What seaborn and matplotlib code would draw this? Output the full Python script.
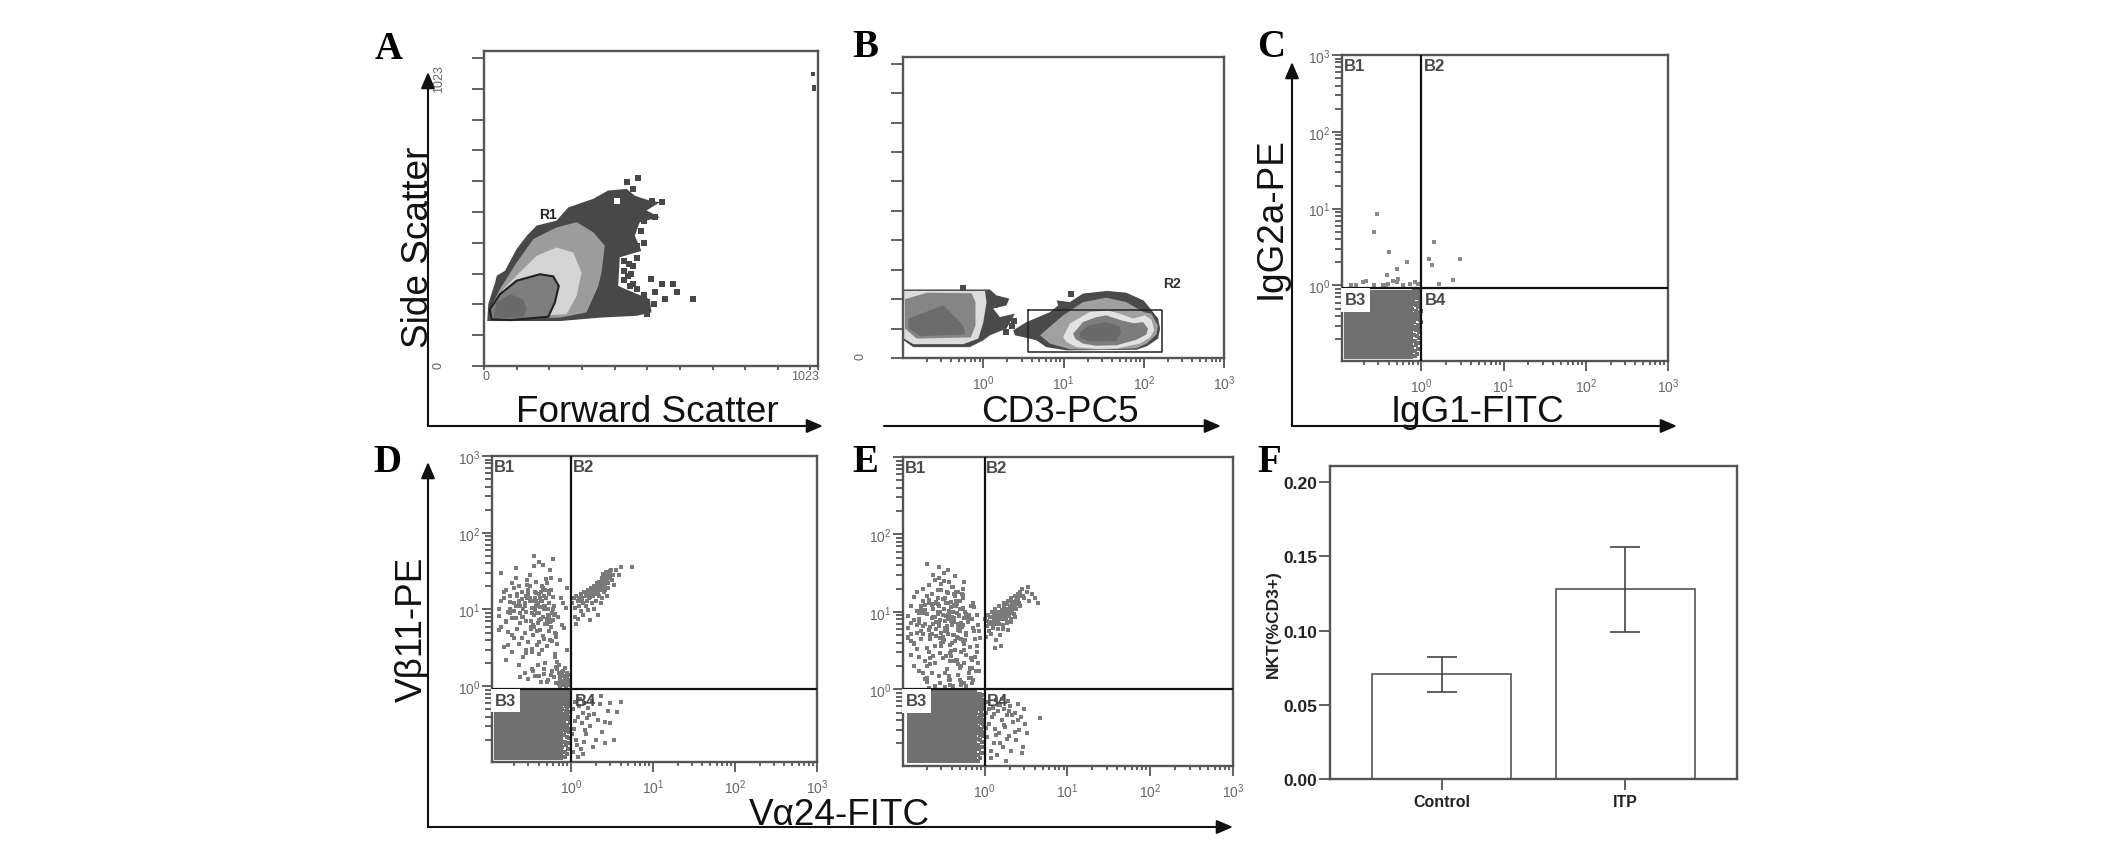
import numpy as np
import matplotlib
matplotlib.use("Agg")
import matplotlib.pyplot as plt
from matplotlib.ticker import LogLocator, NullFormatter, FixedLocator
import seaborn as sns

sns.set_theme(style="ticks")
plt.rcParams["font.family"] = ["Liberation Sans", "DejaVu Sans"]
plt.rcParams["mathtext.fontset"] = "custom"
plt.rcParams["mathtext.rm"] = "Liberation Sans"

W, H = 2126, 854
LINE = "#555555"
DOT = "#707070"
CLOUD = "#7a7a7a"
TXT = "#666666"

# panel A, density regions (forward scatter, side scatter)
a_outer_x = [10, 13, 34, 39, 64, 100, 131, 161, 222, 258, 335, 380, 437, 462, 508, 539, 498, 539, 477, 462, 482, 416, 411, 457, 508, 513, 467, 355, 233]
a_outer_y = [146, 201, 271, 293, 309, 380, 423, 456, 472, 515, 543, 570, 575, 553, 537, 532, 505, 483, 467, 423, 374, 353, 260, 239, 217, 174, 163, 157, 146]
a_mid_x = [18, 23, 49, 100, 151, 222, 284, 335, 370, 360, 350, 314, 233]
a_mid_y = [152, 195, 250, 336, 412, 450, 467, 434, 391, 304, 260, 174, 157]
a_light_x = [29, 59, 120, 161, 222, 273, 299, 284, 253]
a_light_y = [157, 250, 315, 358, 385, 369, 304, 228, 168]
a_gate_x = [23, 18, 49, 100, 171, 212, 229, 217, 197, 80]
a_gate_y = [152, 184, 233, 277, 298, 291, 260, 206, 160, 149]
a_core_x = [29, 39, 80, 120, 131, 120]
a_core_y = [157, 206, 233, 217, 184, 157]
a_cells_x = [437, 472, 457, 544, 514, 523, 457, 441, 457, 513, 544, 579, 523, 590, 554, 641, 447,
             480, 500, 470, 490, 480, 490, 470, 445, 430, 430, 470, 490, 520, 500, 430, 450, 470]
a_cells_y = [597, 611, 575, 532, 537, 483, 326, 293, 266, 284, 266, 266, 239, 239, 219, 219, 260,
             520, 525, 480, 470, 440, 400, 350, 330, 310, 280, 250, 230, 200, 170, 340, 300, 390]
a_far_x = [1008, 1010, 1010]
a_far_y = [949, 906, 900]
a_hole_x = [406]
a_hole_y = [537]

# panel B, density regions (CD3-PC5, side scatter)
b_l_outer_x = [0.102, 1.21, 1.46, 2.11, 1.95, 1.33, 1.61, 2.48, 1.95, 1.21, 1.0, 0.68, 0.134, 0.102]
b_l_outer_y = [233, 233, 213, 202, 179, 168, 139, 151, 100, 77, 60, 37, 37, 60]
b_l_ring_x = [0.103, 1.05, 1.1, 1.0, 0.87, 0.56, 0.134, 0.103]
b_l_ring_y = [228, 228, 190, 120, 66, 47, 47, 66]
b_l_mid_x = [0.106, 0.2, 0.716, 0.8, 0.8, 0.7, 0.148, 0.106]
b_l_mid_y = [200, 222, 220, 190, 110, 70, 66, 100]
b_l_core_x = [0.117, 0.317, 0.56, 0.6, 0.163, 0.117]
b_l_core_y = [134, 179, 111, 80, 74, 100]
b_r_outer_x = [2.36, 3.46, 6.8, 8.6, 8.2, 12, 17.5, 35, 60.6, 100, 119, 151, 160, 151, 110, 81, 10.9, 6.1, 4.6, 3.15, 2.48]
b_r_outer_y = [94, 122, 156, 179, 196, 190, 219, 228, 222, 195, 170, 134, 100, 66, 40, 28, 26, 37, 60, 71, 77]
b_r_mid_x = [5.1, 7, 9.9, 17.5, 34, 60.6, 100, 124, 150, 144, 110, 81, 30, 12, 6.8]
b_r_mid_y = [77, 110, 145, 190, 205, 190, 156, 151, 110, 80, 50, 33, 28, 30, 49]
b_r_ring_x = [9.9, 12, 21, 35, 50, 73.5, 103, 125, 135, 120, 89, 45.6, 25, 14.5, 10.9]
b_r_ring_y = [71, 117, 156, 162, 151, 134, 145, 130, 95, 70, 49, 32, 31, 37, 54]
b_r_inner_x = [13.2, 17.5, 25, 34, 52.5, 75, 98, 113, 108, 81, 45.6, 25, 17.5, 14]
b_r_inner_y = [83, 122, 138, 145, 128, 118, 122, 100, 80, 62, 43, 42, 49, 65]
b_r_core_x = [16, 21, 34, 50, 52, 45.6, 21, 16]
b_r_core_y = [88, 111, 122, 108, 85, 58, 56, 70]
b_cells_x = [0.56, 12.5, 1.9, 2.3, 2.45, 1.5, 1.4]
b_cells_y = [238, 219, 90, 110, 125, 120, 180]

# quadrant panels: main gated population and its speckled edge
block_x = [0.114, 0.8, 0.8, 0.114]
block_y = [0.11, 0.11, 0.9, 0.9]
edge_x = [.74, .78, .82, .86, .9, .94, .97, .76, .8, .84,
          .88, .92, .96, .75, .79, .83, .87, .91, .95, .98,
          .73, .77, .81, .85, .89, .93, .96, .74, .79, .83,
          .87, .9, .94, .97, .76, .81, .85, .88, .92, .98,
          .73, .78, .82, .86, .9, .95, .75, .8, .84, .93,
          .82, .86, .9, .84, .88, .83, .87, .85, .89, .91]
edge_y = [.14, .5, .23, .71, .31, .18, .62, .82, .27, .43,
          .13, .56, .36, .2, .66, .12, .47, .77, .25, .33,
          .4, .16, .75, .29, .6, .21, .85, .53, .34, .19,
          .86, .42, .68, .15, .25, .58, .38, .22, .72, .46,
          .65, .3, .87, .17, .52, .28, .12, .8, .6, .4,
          .33, .55, .8, .14, .45, .68, .26, .78, .37, .15]

# panel C, sparse events
c_x = [.292, .264, .40, .67, .506, .386, 1.42, 1.24, 1.36, 2.92, 2.43, 1.64,
       .196, .215, .14, .16, .34, .39, .45, .52, .72, .83, .27, .375, .6, .5, .9]
c_y = [8.5, 4.9, 2.76, 2.0, 1.65, 1.35, 3.65, 2.2, 1.85, 2.2, 1.18, 1.05,
       1.1, 1.16, 1.0, 1.0, 1.02, 1.05, 1.16, 1.22, 1.05, 1.1, 1.0, 1.0, 1.0, 1.1, 1.03]

# panel D, events by quadrant
d_b1_x = [.13, .15, .17, .19, .21, .23, .25, .28, .31, .34,
          .37, .41, .45, .5, .55, .6, .66, .72, .8, .88,
          .14, .16, .18, .2, .22, .24, .26, .29, .32, .35,
          .38, .42, .46, .51, .56, .62, .68, .75, .82, .9,
          .13, .16, .19, .21, .23, .27, .3, .33, .36, .4,
          .44, .48, .53, .58, .64, .7, .78, .86, .15, .18,
          .2, .22, .25, .28, .31, .34, .37, .41, .45, .49,
          .54, .6, .67, .14, .17, .19, .24, .27, .3, .33,
          .36, .39, .43, .47, .52, .57, .63, .2, .23, .26,
          .29, .32, .35, .38, .42, .46, .5, .55, .16, .21,
          .25, .28, .31, .34, .37, .4, .44, .48, .24, .27,
          .3, .33, .36, .39, .43, .47, .52, .58, .65, .72,
          .78, .84, .9, .93, .7, .75, .62, .68, .8, .86,
          .5, .56, .6, .45, .66, .73, .83, .88, .4, .35,
          .14, .18, .22, .26, .3, .34, .38, .42, .46, .5,
          .54, .58, .63, .69, .16, .2, .24, .28, .32, .36,
          .4, .44, .48, .52, .56, .61, .66, .15, .19, .23,
          .27, .31, .35, .39, .43, .47, .51, .55, .6, .17,
          .21, .25, .29, .33, .37, .41, .45, .49, .53, .57,
          .13, .18, .23, .28, .33, .38, .43, .48, .53, .64,
          .72, .76, .81, .85, .9, .94, .7, .74, .79, .83,
          .87, .91, .95, .68, .73, .77, .82, .86, .92, .96]
d_b1_y = [8.2, 14, 5.1, 22, 11, 3.6, 17, 9.4, 28, 6.3,
          13, 2.6, 19, 7.5, 33, 10, 4.4, 24, 12, 3,
          30, 6.8, 12.5, 4.2, 16, 9, 2.4, 21, 7.1, 37,
          11.5, 5.4, 15, 3.3, 26, 8.5, 2.1, 14, 5.8, 19,
          10, 18, 7.7, 26, 12, 5, 16, 3.1, 9.8, 42,
          20, 6.5, 12, 3.9, 8.8, 1.9, 6.2, 10.5, 3.2, 15,
          9.5, 5.6, 13.5, 7, 20, 4.6, 11, 16, 8, 25,
          5.2, 14.5, 3.6, 6, 9.2, 2.8, 6.6, 12, 3.8, 10.5,
          17, 6.7, 13, 4.1, 8.4, 18, 2.4, 19, 1.9, 10,
          14.2, 5.5, 8.6, 3.4, 10.8, 1.7, 22, 6.9, 2.2, 35,
          8, 2.7, 12.8, 1.6, 23, 7.3, 3, 11.2, 1.3, 1.5,
          1.25, 1.7, 1.35, 1.9, 1.15, 1.45, 1.2, 1.6, 1.1, 1.3,
          1.05, 1.25, 1.1, 1.4, 1.5, 1.05, 1.3, 1.1, 1.6, 1.2,
          1.15, 1.4, 45, 38, 1.8, 1.02, 1.75, 1.5, 1.35, 50,
          13, 10, 15, 8, 18, 13, 9, 14, 11, 7,
          16, 9, 5, 8, 7, 12, 11, 15, 6, 14,
          9, 13, 18, 10, 7, 11, 4.8, 17, 4.6, 20,
          11, 14, 6, 12, 17, 10, 6.4, 4, 7.4, 3.4,
          7.8, 4.2, 24, 9, 16.5, 3.8, 4.5, 14, 17.5, 5.9,
          5.4, 9, 13, 3, 2.8, 5.2, 7.6, 2, 8, 2.6,
          1.2, 1.05, 1.35, 1.1, 1.25, 1.4, 1.08, 1.5, 1.18, 1.3,
          1.02, 1.12, 1.22, 1.7, 1.05, 1.55, 1.15, 1.3, 1.05, 1.1]
d_b2_x = [1.03, 1.08, 1.12, 1.15, 1.2, 1.25, 1.3, 1.35, 1.4, 1.45,
          1.5, 1.55, 1.6, 1.65, 1.7, 1.75, 1.8, 1.85, 1.9, 1.95,
          2.0, 2.05, 2.1, 2.15, 2.2, 2.25, 2.3, 2.35, 2.4, 2.45,
          2.5, 2.55, 2.6, 2.65, 2.7, 2.8, 2.9, 3.0, 3.1, 3.2,
          1.1, 1.2, 1.3, 1.4, 1.5, 1.6, 1.7, 1.8, 1.9, 2.0,
          2.1, 2.2, 2.3, 2.4, 2.5, 2.6, 2.7, 2.8, 3.3, 3.5,
          3.8, 4.0, 5.6, 1.15, 1.35, 1.55, 1.75, 1.95, 2.15, 2.35,
          2.55, 2.75, 2.95, 3.15, 1.25, 2.05, 2.5, 2.65, 2.35, 2.45,
          1.6, 1.7, 1.8, 1.9, 2.0, 2.1, 2.2, 2.3, 2.4, 2.5,
          2.6, 2.7, 2.8, 2.9, 3.0, 1.65, 1.85, 2.05, 2.25, 2.45]
d_b2_y = [12, 14, 10.5, 15, 13, 11, 16, 14, 12, 17,
          15, 13, 18, 16, 14.5, 19, 17, 15, 20, 18,
          16, 22, 19, 17, 23, 20, 18, 25, 22, 19,
          27, 23, 21, 29, 25, 22, 30, 26, 33, 28,
          8, 7.5, 9.5, 8.4, 11, 9.8, 7.2, 12, 10.2, 13,
          8.4, 15, 12, 14, 17, 18, 15, 19, 21, 33,
          28, 36, 36, 6.4, 12.8, 15, 17.5, 16.2, 20, 21,
          24, 27, 32, 24, 14, 18, 20, 31, 26, 29,
          16, 17, 18.5, 18, 20, 20, 21, 22, 24, 25,
          25, 26, 28, 27, 30, 14, 16, 18, 19, 23]
d_b4_x = [1.04, 1.08, 1.12, 1.15, 1.2, 1.25, 1.3, 1.35, 1.4, 1.45,
          1.5, 1.55, 1.6, 1.7, 1.8, 1.9, 2.0, 2.1, 2.25, 2.4,
          2.6, 2.8, 3.0, 3.3, 3.6, 4.1, 1.05, 1.1, 1.18, 1.28,
          1.38, 1.48, 1.65, 1.85, 2.3, 2.55, 2.95, 1.03, 1.22, 1.42]
d_b4_y = [.5, .28, .62, .2, .4, .55, .15, .33, .45, .6,
          .24, .38, .52, .3, .64, .44, .2, .36, .58, .25,
          .34, .48, .6, .2, .46, .62, .14, .35, .17, .68,
          .13, .27, .42, .16, .75, .18, .33, .24, .12, .19]

# panel E, events by quadrant
e_b1_x = [.12, .13, .14, .15, .16, .17, .18, .19, .2, .21,
          .22, .23, .24, .25, .26, .27, .28, .29, .3, .31,
          .32, .33, .34, .35, .36, .37, .38, .39, .4, .42,
          .44, .46, .48, .5, .52, .54, .56, .58, .6, .64,
          .68, .72, .76, .8, .12, .13, .14, .15, .16, .17,
          .18, .19, .2, .21, .22, .23, .24, .25, .26, .27,
          .28, .29, .3, .31, .32, .33, .34, .35, .36, .37,
          .38, .39, .4, .42, .44, .46, .48, .5, .52, .54,
          .56, .6, .65, .7, .75, .82, .13, .15, .17, .19,
          .21, .23, .25, .27, .29, .31, .33, .35, .37, .39,
          .41, .43, .45, .47, .49, .51, .53, .55, .57, .62,
          .67, .73, .78, .14, .16, .18, .2, .22, .24, .26,
          .28, .3, .32, .34, .36, .38, .4, .43, .46, .49,
          .12, .15, .18, .21, .24, .27, .3, .33, .36, .39,
          .42, .45, .48, .51, .54, .58, .63, .7, .76, .85,
          .13, .16, .19, .22, .25, .28, .31, .34, .37, .4,
          .44, .47, .5, .53, .57, .61, .66, .71, .8, .86,
          .14, .17, .2, .23, .26, .29, .32, .35, .38, .41,
          .2, .24, .28, .32, .36, .4, .44, .48, .52, .56,
          .6, .68, .21, .25, .29, .33, .37, .41, .45, .5,
          .13, .16, .19, .22, .25, .28, .31, .34, .37, .4,
          .43, .46, .49, .52, .55, .59, .64, .7, .15, .18,
          .21, .24, .27, .3, .33, .36, .39, .42, .45, .48,
          .51, .56, .62, .68, .74, .8, .87, .17, .2, .23,
          .26, .29, .32, .35, .38, .41, .44, .47, .5, .54,
          .6, .66, .72, .78, .84, .12, .14, .16, .18, .2]
e_b1_y = [6.1, 12, 3.8, 18, 8.2, 4.5, 14, 2.3, 9.5, 22,
          6.4, 1.6, 11, 26, 4.9, 15, 7.3, 2.9, 19, 9,
          32, 5.6, 13, 1.8, 8, 24, 3.7, 11.5, 6.8, 17,
          4.2, 9.8, 2.1, 14, 7.2, 20, 3.2, 10, 5.4, 1.4,
          12, 6.2, 2.6, 9, 8.9, 2.8, 15.5, 5.4, 1.7, 11,
          20, 7, 3.4, 13, 4.4, 17, 8.7, 2.2, 6, 12.5,
          1.5, 10, 23, 4.8, 14.5, 7.6, 2.7, 18, 5.2, 9.4,
          1.3, 13.5, 3.9, 7.8, 16, 2.4, 5.9, 11, 3, 15,
          8.3, 5, 9.2, 1.9, 11.4, 6.7, 7.1, 3.3, 10.6, 1.35,
          5.8, 12.2, 3.6, 19, 7.9, 2.5, 15, 6.6, 10.4, 3.1,
          21, 7.4, 13.8, 4.6, 9.1, 2, 6.4, 16.5, 1.2, 8.1,
          3.5, 13, 1.7, 4, 9.6, 5.1, 16, 2.1, 12.8, 7.5,
          27, 3.9, 10.8, 6.1, 17.5, 2.9, 8.5, 12, 4.7, 6.9,
          4.6, 10.2, 6.5, 14.2, 2.7, 9.3, 5.3, 1.6, 13, 7.7,
          2.3, 18, 6.2, 1.25, 11.2, 4.3, 7.5, 1.2, 4.4, 5.6,
          5.2, 7.2, 12.4, 2.5, 1.1, 6.5, 14.6, 8.9, 1.5, 4,
          12.1, 1.55, 5.7, 17, 2.2, 9.2, 1.8, 8, 3, 1.7,
          7.8, 11.8, 1.25, 8.4, 13.2, 1.2, 4.3, 5.9, 1.15, 9.9,
          42, 30, 38, 25, 35, 21, 29, 17.8, 1.15, 24,
          2.8, 1.4, 1.05, 1.1, 1.2, 1.08, 1.3, 1.1, 2.4, 1.9,
          4.2, 7.6, 10.5, 5, 8.6, 12, 4.1, 6, 10.2, 7,
          5, 12.6, 8.8, 4.4, 6.8, 9.4, 1.6, 2.4, 6.8, 9.6,
          3, 7, 10, 3.6, 6.2, 9, 2.7, 8.4, 12, 6.7,
          10.8, 3.8, 7.8, 2.5, 5.6, 3.6, 4.6, 5.6, 2, 5.2,
          13, 4.6, 11, 8.8, 2.3, 5, 3.2, 7, 1.3, 4.2,
          1.1, 1.9, 1.3, 1.7, 2.2, 4.8, 2, 2.6, 1.6, 1.4]
e_b2_x = [1.02, 1.06, 1.1, 1.14, 1.18, 1.22, 1.26, 1.3, 1.34, 1.38,
          1.42, 1.46, 1.5, 1.55, 1.6, 1.65, 1.7, 1.75, 1.8, 1.85,
          1.9, 1.95, 2.0, 2.05, 2.1, 2.15, 2.2, 2.25, 2.3, 2.35,
          2.4, 2.5, 2.6, 2.7, 2.85, 3.0, 3.2, 3.4, 3.7, 4.1,
          1.05, 1.12, 1.2, 1.28, 1.36, 1.44, 1.52, 1.6, 1.68, 1.76,
          1.84, 1.92, 2.0, 2.1, 2.2, 2.3, 2.4, 2.55, 2.7, 1.08,
          1.16, 1.24, 1.32, 1.4, 1.48, 1.56, 1.64, 1.72, 1.8, 1.88,
          1.96, 2.04, 2.12, 2.28, 2.45, 2.65, 2.9, 3.3, 4.4, 1.35,
          1.25, 1.35, 1.45, 1.55, 1.65, 1.75, 1.85, 1.95, 2.05, 2.15,
          2.25, 2.35, 2.45, 2.55, 1.15, 1.3, 1.5, 1.7, 1.9, 2.1]
e_b2_y = [8, 6.5, 9, 5.6, 7.4, 10, 6.2, 8.2, 11, 7,
          9.2, 6, 12, 8, 10.5, 6.8, 13, 9, 11, 7.4,
          14, 10, 12, 8, 15, 11, 13, 9.5, 16, 12,
          14, 17, 13, 16, 20, 15, 18, 14, 17, 15,
          4.8, 6.9, 5.2, 9.5, 4.3, 7.6, 5, 8.8, 6, 10,
          7.2, 5.9, 9.6, 7.5, 12, 8.5, 11, 14, 12, 7.6,
          8.6, 7, 9.8, 8, 10, 3.6, 9.4, 11.5, 8.4, 12.5,
          9, 14, 10.4, 13.5, 15.5, 18, 16, 21, 13, 3.4,
          8.5, 9, 8.6, 9.6, 9, 10.5, 10, 11, 10.6, 12.5,
          11.5, 13.5, 12.5, 15, 7.2, 7.8, 7, 8, 8.8, 9.6]
e_b4_x = [1.03, 1.07, 1.1, 1.14, 1.18, 1.22, 1.26, 1.3, 1.34, 1.38,
          1.42, 1.46, 1.5, 1.55, 1.6, 1.65, 1.7, 1.75, 1.8, 1.85,
          1.9, 1.95, 2.0, 2.1, 2.2, 2.3, 2.4, 2.5, 2.6, 2.75,
          2.9, 3.05, 3.2, 4.6, 1.05, 1.12, 1.2, 1.28, 1.36, 1.44,
          1.52, 1.6, 1.72, 1.84, 1.96, 2.15, 2.35, 2.55, 2.85, 3.0]
e_b4_y = [.5, .24, .68, .36, .16, .44, .58, .2, .31, .72,
          .14, .52, .27, .63, .4, .18, .55, .33, .12, .47,
          .7, .25, .6, .16, .38, .5, .22, .64, .3, .44,
          .18, .36, .27, .42, .32, .55, .13, .48, .26, .62,
          .2, .75, .35, .23, .53, .46, .28, .4, .15, .55]

# panel F
groups = ["Control", "ITP"]
nkt_mean = [0.0708, 0.1279]
nkt_low = [0.0587, 0.0993]
nkt_high = [0.0822, 0.1562]
nkt_ticks = [0.00, 0.05, 0.10, 0.15, 0.20]


def px_axes(left, top, right, bottom):
    ax = fig.add_axes([left / W, 1 - bottom / H, (right - left) / W, (bottom - top) / H])
    for s in ax.spines.values():
        s.set_color(LINE)
        s.set_linewidth(1.7)
    return ax


def log_ticks(ax, xlim, ylim, show_top=True):
    ax.set_xscale("log")
    ax.set_yscale("log")
    ax.set_xlim(*xlim)
    ax.set_ylim(*ylim)
    for axis in (ax.xaxis, ax.yaxis):
        axis.set_major_locator(FixedLocator([1, 10, 100, 1000]))
        axis.set_minor_locator(LogLocator(base=10, subs=np.arange(2, 10), numticks=12))
        axis.set_minor_formatter(NullFormatter())
    labels = ["$\\mathregular{10^{0}}$", "$\\mathregular{10^{1}}$", "$\\mathregular{10^{2}}$", "$\\mathregular{10^{3}}$"]
    ax.set_xticklabels(labels)
    ax.set_yticklabels(labels[:3] + ([labels[3]] if show_top else [""]))
    ax.tick_params(axis="x", which="major", length=7, width=1.3, color=LINE, labelsize=10, labelcolor=TXT, pad=4)
    ax.tick_params(axis="x", which="minor", length=3, width=1.3, color=LINE)
    ax.tick_params(axis="y", which="major", length=7, width=1.3, color=LINE, labelsize=10, labelcolor=TXT, pad=1)
    ax.tick_params(axis="y", which="minor", length=5, width=1.3, color=LINE)


def quadrant(ax, hline, block_top):
    ys = [block_top if v == max(block_y) else v for v in block_y]
    ax.fill(block_x, ys, color=DOT, lw=0, zorder=2)
    sns.scatterplot(x=edge_x, y=edge_y, ax=ax, color=DOT, marker="s", s=7, linewidth=0, zorder=2)
    ax.axvline(1, color="#111111", lw=1.6, zorder=4)
    ax.axhline(hline, color="#111111", lw=1.6, zorder=4)
    lab = dict(fontsize=12, fontweight="bold", color="#4a4a4a", va="top", ha="left", zorder=5)
    tr = ax.get_yaxis_transform()
    ax.text(0.005, 0.99, "B1", transform=ax.transAxes, **lab)
    ax.text(0.25, 0.99, "B2", transform=ax.transAxes, **lab)
    ax.annotate("B4", (0.25, hline), xycoords=tr, xytext=(1, -3), textcoords="offset points", **lab)
    ax.annotate("B3", (0.005, hline), xycoords=tr, xytext=(1, -3), textcoords="offset points",
                bbox=dict(facecolor="white", edgecolor="none", pad=3), **lab)


fig = plt.figure(figsize=(W / 100, H / 100), dpi=100, facecolor="white")

# A
ax = px_axes(484, 52, 818, 367)
for xs, ys, col in [(a_outer_x, a_outer_y, "#484848"), (a_mid_x, a_mid_y, "#9c9c9c"), (a_light_x, a_light_y, "#d4d4d4")]:
    ax.fill(xs, ys, color=col, lw=0, zorder=2)
ax.fill(a_gate_x, a_gate_y, facecolor="#7e7e7e", edgecolor="#222222", lw=1.5, zorder=3)
ax.fill(a_core_x, a_core_y, color="#6a6a6a", lw=0, zorder=3)
sns.scatterplot(x=a_cells_x, y=a_cells_y, ax=ax, color="#484848", marker="s", s=14, linewidth=0, zorder=2)
sns.scatterplot(x=a_far_x, y=a_far_y, ax=ax, color="#484848", marker="s", s=6, linewidth=0, zorder=2)
sns.scatterplot(x=a_hole_x, y=a_hole_y, ax=ax, color="white", marker="s", s=22, linewidth=0, zorder=2)
ax.set_xlim(0, 1023)
ax.set_ylim(0, 1023)
ax.set_xticks(list(range(0, 1001, 100)) + [1023])
ax.set_xticklabels([])
ax.set_yticks(range(0, 1001, 100))
ax.set_yticklabels([])
ax.tick_params(axis="x", length=3, width=1.3, color=LINE)
ax.tick_params(axis="y", length=9, width=1.3, color=LINE)
ax.text(195, 494, "R1", fontsize=10, fontweight="bold", color="#222222", ha="center", va="center", zorder=5)

# B
ax = px_axes(903, 58, 1224, 359)
log_ticks(ax, (0.1, 1000), (1, 10))
ax.set_yscale("linear")
ax.set_ylim(0, 1023)
ax.yaxis.set_major_locator(FixedLocator(list(range(0, 1001, 100))))
ax.yaxis.set_minor_locator(FixedLocator([]))
ax.yaxis.set_major_formatter(NullFormatter())
ax.tick_params(axis="y", which="major", length=9, width=1.3, color=LINE)
for xs, ys, col in [(b_l_outer_x, b_l_outer_y, "#4a4a4a"), (b_l_ring_x, b_l_ring_y, "#dcdcdc"),
                    (b_l_mid_x, b_l_mid_y, "#858585"), (b_l_core_x, b_l_core_y, "#6c6c6c"),
                    (b_r_outer_x, b_r_outer_y, "#4a4a4a"), (b_r_mid_x, b_r_mid_y, "#a0a0a0"),
                    (b_r_ring_x, b_r_ring_y, "#e2e2e2"), (b_r_inner_x, b_r_inner_y, "#7d7d7d"),
                    (b_r_core_x, b_r_core_y, "#6a6a6a")]:
    ax.fill(xs, ys, color=col, lw=0, zorder=2)
sns.scatterplot(x=b_cells_x, y=b_cells_y, ax=ax, color="#4a4a4a", marker="s", s=14, linewidth=0, zorder=2)
ax.plot([3.63, 170, 170, 3.63, 3.63], [164, 164, 20, 20, 164], color="#222222", lw=1.1, zorder=3)
ax.text(227, 255, "R2", fontsize=10, fontweight="bold", color="#333333", ha="center", va="center")

# C
ax = px_axes(1342, 56, 1668, 362)
log_ticks(ax, (0.1087, 1000), (0.104, 1000))
quadrant(ax, 0.92, 0.88)
sns.scatterplot(x=c_x, y=c_y, ax=ax, color="#8a8a8a", marker="s", s=5, linewidth=0, zorder=2)

# D
ax = px_axes(492, 457, 817, 763)
log_ticks(ax, (0.108, 1000), (0.103, 1000))
quadrant(ax, 0.92, 0.9)
for xs, ys in [(d_b1_x, d_b1_y), (d_b2_x, d_b2_y), (d_b4_x, d_b4_y)]:
    sns.scatterplot(x=xs, y=ys, ax=ax, color=CLOUD, marker="s", s=5.5, linewidth=0, zorder=2)

# E
ax = px_axes(903, 458, 1233, 767)
log_ticks(ax, (0.103, 1000), (0.102, 1000), show_top=False)
quadrant(ax, 1.0, 0.98)
for xs, ys in [(e_b1_x, e_b1_y), (e_b2_x, e_b2_y), (e_b4_x, e_b4_y)]:
    sns.scatterplot(x=xs, y=ys, ax=ax, color=CLOUD, marker="s", s=5.5, linewidth=0, zorder=2)

# F
ax = px_axes(1330, 467, 1737, 780)
sns.barplot(x=groups, y=nkt_mean, ax=ax, color="white", edgecolor=LINE, linewidth=1.2, width=0.755, errorbar=None, zorder=2)
ax.errorbar(groups, nkt_mean,
            yerr=[np.array(nkt_mean) - np.array(nkt_low), np.array(nkt_high) - np.array(nkt_mean)],
            fmt="none", ecolor="#444444", elinewidth=1.2, capsize=11, capthick=1.2, zorder=3)
ax.set_xlim(-0.609, 1.609)
ax.set_ylim(0, 0.2108)
ax.set_yticks(nkt_ticks)
ax.set_yticklabels([f"{v:.2f}" for v in nkt_ticks], fontweight="bold", fontsize=12.5, color="#222222")
ax.set_xticks([0, 1])
ax.set_xticklabels(groups, fontweight="bold", fontsize=11.5, color="#222222")
ax.tick_params(axis="y", length=8, width=1.3, color=LINE, pad=1)
ax.tick_params(axis="x", length=8, width=1.3, color=LINE, pad=3)

# figure-wide arrows, labels and panel letters in pixel coordinates
bg = fig.add_axes([0, 0, 1, 1], zorder=10)
bg.set_xlim(0, W)
bg.set_ylim(H, 0)
bg.axis("off")


def arrow(x0, y0, x1, y1):
    bg.annotate("", xy=(x1, y1), xytext=(x0, y0),
                arrowprops=dict(arrowstyle="-|>,head_length=0.7,head_width=0.3", color="#111111", lw=1.5,
                                shrinkA=0, shrinkB=0, mutation_scale=14))


arrow(428, 427, 428, 73)
arrow(428, 427, 823, 427)
arrow(884, 427, 1221, 427)
arrow(1292, 427, 1292, 63)
arrow(1292, 427, 1677, 427)
arrow(428, 828, 428, 463)
arrow(428, 828, 1233, 828)

big = dict(fontsize=26.6, color="#111111", ha="center", va="center")
bg.text(647, 413, "Forward Scatter", **big)
bg.text(419, 247, "Side Scatter", rotation=90, **big)
bg.text(1060, 413, "CD3-PC5", **big)
bg.text(1478, 413, "IgG1-FITC", **big)
bg.text(1271, 218, "IgG2a-PE", rotation=90, **big)
bg.text(839, 816, "Vα24-FITC", **big)
bg.text(412, 629, "Vβ11-PE", rotation=90, **big)

small = dict(fontsize=9, color=TXT, ha="center", va="center")
bg.text(439, 79, "1023", rotation=90, **small)
bg.text(439, 366, "0", rotation=90, **small)
bg.text(486, 377, "0", **small)
bg.text(805, 377, "1023", **small)
bg.text(860, 357, "0", rotation=90, **small)

bg.text(1273, 624, "NKT(%CD3+)", rotation=90, fontsize=12.5, fontweight="bold", color="#222222", ha="center", va="center")

letter = dict(family=["Liberation Serif"], fontsize=28, fontweight="bold", color="black", ha="left", va="baseline")
for name, lx, ly in [("A", 375, 59), ("B", 852, 57), ("C", 1257, 57), ("D", 373, 472), ("E", 852, 472), ("F", 1257, 472)]:
    bg.text(lx, ly, name, **letter)

fig.savefig("out.png", dpi=100)
